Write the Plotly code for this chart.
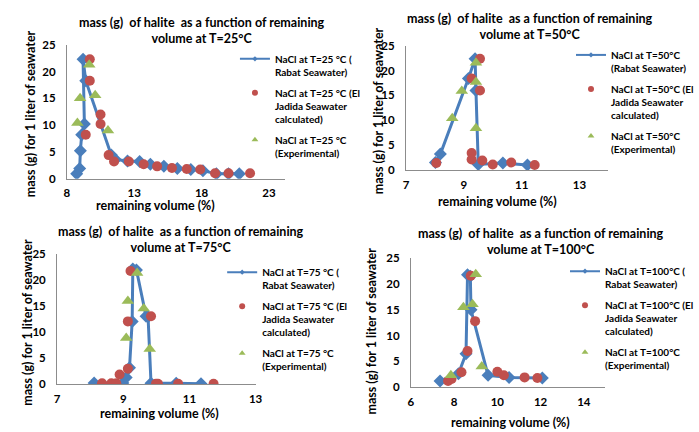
import plotly.graph_objects as go

W, H = 699, 432

# ---------------- data ----------------
temps = ["25", "50", "75", "100"]

rabat25_x = [8.73, 8.95, 9.0, 9.1, 9.3, 9.2, 9.4, 11.3, 11.6, 12.5, 13.4, 14.2, 15.2, 16.2, 17.2, 18.1, 19.1, 20.0, 20.8]
rabat25_y = [0.9, 1.9, 5.2, 8.2, 10.2, 22.3, 18.3, 4.4, 3.6, 3.3, 3.2, 2.7, 2.3, 1.9, 1.7, 1.5, 0.9, 0.9, 0.9]
jadida25_x = [9.7, 9.7, 10.5, 10.5, 9.4, 11.1, 11.5, 12.6, 13.7, 14.7, 15.8, 16.9, 17.9, 19.0, 20.0, 21.6]
jadida25_y = [22.3, 18.3, 12.0, 10.2, 8.2, 4.4, 3.2, 3.2, 2.7, 2.3, 2.0, 1.8, 1.7, 1.0, 1.0, 1.0]
exp25_x = [8.78, 8.98, 9.66, 10.1, 11.05]
exp25_y = [10.4, 15.0, 21.3, 15.6, 9.0]

rabat50_x = [8.02, 8.19, 9.16, 9.39, 9.42, 9.5, 10.35, 11.2]
rabat50_y = [1.5, 3.2, 18.4, 22.4, 16.0, 1.1, 1.4, 1.0]
jadida50_x = [8.05, 9.27, 9.56, 9.56, 9.27, 9.27, 9.64, 10.0, 10.64, 11.45]
jadida50_y = [1.4, 18.4, 22.4, 16.0, 3.4, 2.1, 1.9, 1.1, 1.5, 1.0]
exp50_x = [8.6, 8.93, 9.42, 9.42, 9.42]
exp50_y = [10.4, 15.9, 21.6, 17.7, 8.4]

rabat75_x = [8.12, 8.99, 9.09, 9.19, 9.27, 9.29, 9.4, 9.69, 9.75, 9.84, 10.6, 11.35]
rabat75_y = [0.25, 0.25, 1.3, 3.2, 12.1, 22.2, 22.0, 13.1, 13.0, 0.2, 0.2, 0.1]
jadida75_x = [8.36, 8.64, 8.79, 8.89, 9.14, 9.14, 9.22, 9.84, 9.99, 10.05, 10.66, 11.73]
jadida75_y = [0.2, 0.2, 0.2, 1.9, 3.0, 12.1, 21.8, 13.1, 0.1, 0.1, 0.1, 0.1]
exp75_x = [9.09, 9.14, 9.42, 9.62, 9.8]
exp75_y = [8.9, 16.0, 21.4, 14.6, 6.8]

rabat100_x = [7.35, 8.2, 8.55, 8.62, 8.75, 8.78, 9.57, 10.54, 12.08]
rabat100_y = [1.2, 2.6, 6.5, 21.8, 21.5, 15.0, 2.3, 1.9, 1.8]
jadida100_x = [7.72, 7.88, 8.34, 8.62, 8.77, 8.97, 10.0, 10.3, 11.26, 11.85]
jadida100_y = [1.2, 1.6, 2.9, 7.0, 21.6, 12.8, 3.0, 2.3, 1.9, 1.8]
exp100_x = [7.85, 8.43, 8.85, 9.0, 9.28]
exp100_y = [2.3, 15.5, 16.1, 21.9, 4.0]

x_ranges = [[8, 24.2], [7, 14], [7, 13], [6, 15]]
x_tick_vals = [[8, 13, 18, 23], [7, 9, 11, 13], [7, 9, 11, 13], [6, 8, 10, 12, 14]]
y_tick_vals = [0, 5, 10, 15, 20, 25]

legend_rabat = ["NaCl at T=25 °C (<br>Rabat Seawater)", "NaCl at T=50°C<br>(Rabat Seawater)",
                "NaCl at T=75 °C (<br>Rabat Seawater)", "NaCl at T=100°C (<br>Rabat Seawater)"]
legend_jadida = ["NaCl at T=%s°C (El<br>Jadida Seawater<br>calculated)" % t for t in ["25 ", "50", "75 ", "100"]]
legend_exp = ["NaCl at T=%s°C<br>(Experimental)" % t for t in ["25 ", "50", "75 ", "100"]]

# ---------------- layout geometry (pixels) ----------------
FONT = "Lato"
BLUE, RED, GREEN = "#4A7EBB", "#C0504D", "#9BBB59"

plot_px = [  # x0, x1, y0(top), y1(bottom)
    (65, 287, 39, 177),
    (410, 616, 40, 168),
    (55, 257, 255, 389),
    (415, 613, 259, 392),
]
title_px = [(202, 24.5), (536, 20.5), (181, 239.5), (547, 241.3)]
xtitle_px = [(155, 205), (503, 201), (159, 419), (516, 428)]
ytitle_px = [(28, 110), (382, 107), (25, 325), (375, 334)]
legend_px = [(236, 40), (578, 36), (223, 260), (572, 259)]

def px(x):
    return x / W

def py(y):
    return 1 - y / H

data = [
    (rabat25_x, rabat25_y, jadida25_x, jadida25_y, exp25_x, exp25_y),
    (rabat50_x, rabat50_y, jadida50_x, jadida50_y, exp50_x, exp50_y),
    (rabat75_x, rabat75_y, jadida75_x, jadida75_y, exp75_x, exp75_y),
    (rabat100_x, rabat100_y, jadida100_x, jadida100_y, exp100_x, exp100_y),
]

fig = go.Figure()
layout = dict(
    width=W, height=H, margin=dict(l=0, r=0, t=0, b=0),
    paper_bgcolor="white", plot_bgcolor="white",
    font=dict(family=FONT, color="black"),
    annotations=[],
)

BOLD = dict(family=FONT, color="black", weight="bold")

for i in range(4):
    n = "" if i == 0 else str(i + 1)
    leg = "legend" if i == 0 else "legend%d" % (i + 1)
    rx, ry, jx, jy, ex, ey = data[i]
    ax_kw = dict(xaxis="x" + n, yaxis="y" + n)
    # plotted series
    fig.add_trace(go.Scatter(
        x=rx, y=ry, mode="lines+markers", showlegend=False,
        line=dict(color=BLUE, width=3),
        marker=dict(symbol="diamond", size=10, color=BLUE), **ax_kw))
    fig.add_trace(go.Scatter(
        x=jx, y=jy, mode="markers", showlegend=False,
        marker=dict(symbol="circle", size=10, color=RED), **ax_kw))
    fig.add_trace(go.Scatter(
        x=ex, y=ey, mode="markers", showlegend=False,
        marker=dict(symbol="triangle-up", size=11, color=GREEN), **ax_kw))
    # legend entries (small symbols like the original)
    fig.add_trace(go.Scatter(
        x=[None], y=[None], mode="lines+markers", name=legend_rabat[i],
        line=dict(color=BLUE, width=2), legendgroup="g1_%d" % i,
        marker=dict(symbol="diamond", size=4, color=BLUE), legend=leg, **ax_kw))
    fig.add_trace(go.Scatter(
        x=[None], y=[None], mode="markers", name=legend_jadida[i], legendgroup="g2_%d" % i,
        marker=dict(symbol="circle", size=6, color=RED), legend=leg, **ax_kw))
    fig.add_trace(go.Scatter(
        x=[None], y=[None], mode="markers", name=legend_exp[i], legendgroup="g3_%d" % i,
        marker=dict(symbol="triangle-up", size=6, color=GREEN), legend=leg, **ax_kw))

    x0, x1, y0, y1 = plot_px[i]
    layout["xaxis" + n] = dict(
        domain=[px(x0), px(x1)], range=x_ranges[i], anchor="y" + n,
        tickvals=x_tick_vals[i], showgrid=False, zeroline=False,
        showline=True, linecolor="#8C8C8C", linewidth=1,
        ticks="", tickfont=dict(size=11.5, **BOLD),
        ticklabelstandoff=4,
    )
    layout["yaxis" + n] = dict(
        domain=[py(y1), py(y0)], range=[0, 25], anchor="x" + n,
        tickvals=y_tick_vals, showgrid=False, zeroline=False,
        showline=True, linecolor="#8C8C8C", linewidth=1,
        ticks="", tickfont=dict(size=11.5, **BOLD),
        ticklabelstandoff=8,
    )
    lx, ly = legend_px[i]
    layout[leg] = dict(
        x=px(lx), y=py(ly), xanchor="left", yanchor="top",
        font=dict(size=10, **BOLD),
        bgcolor="rgba(0,0,0,0)", valign="top", itemwidth=30,
        tracegroupgap=5, itemclick=False,
    )
    t = temps[i]
    tx, ty = title_px[i]
    layout["annotations"].append(dict(
        x=px(tx), y=py(ty), xref="paper", yref="paper", xanchor="center", yanchor="middle",
        text="mass (g)  of halite  as a function of remaining<br>volume at T=%s°C" % t,
        showarrow=False, font=dict(size=12.5, **BOLD)))
    ax, ay = xtitle_px[i]
    layout["annotations"].append(dict(
        x=px(ax), y=py(ay), xref="paper", yref="paper", xanchor="center", yanchor="middle",
        text="remaining volume (%)", showarrow=False,
        font=dict(size=12.5, **BOLD)))
    bx, by = ytitle_px[i]
    layout["annotations"].append(dict(
        x=px(bx), y=py(by), xref="paper", yref="paper", xanchor="center", yanchor="middle",
        text="mass (g) for 1 liter of seawater", showarrow=False, textangle=-90,
        font=dict(size=12.5, **BOLD)))

fig.update_layout(**layout)
fig.write_html("out.html")
